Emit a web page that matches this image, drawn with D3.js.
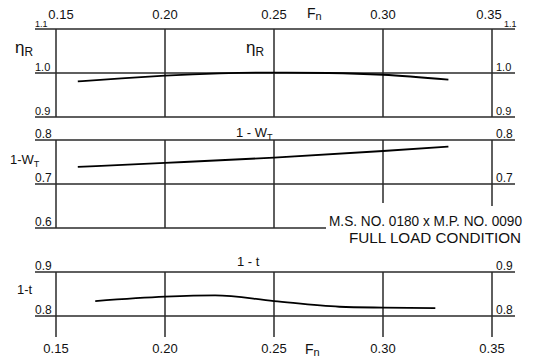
<!DOCTYPE html>
<html>
<head>
<meta charset="utf-8">
<script src="https://cdn.jsdelivr.net/npm/d3@7"></script>
<style>
  body { margin: 0; background: #fff; }
  text { font-family: "Liberation Sans", "DejaVu Sans", sans-serif; fill: #111; }
</style>
</head>
<body>
<div id="chart"></div>
<script>
// Fn tick values
const fnTicks = [0.15, 0.20, 0.25, 0.30, 0.35]

// eta_R curve
const etaFn = [0.16, 0.18, 0.20, 0.225, 0.25, 0.275, 0.30, 0.33]
const etaR = [0.981, 0.988, 0.994, 0.999, 1.001, 1.000, 0.996, 0.985]

// 1 - wT curve
const wFn = [0.16, 0.20, 0.25, 0.30, 0.33]
const oneMinusW = [0.739, 0.748, 0.760, 0.775, 0.785]

// 1 - t curve
const tFn = [0.168, 0.20, 0.223, 0.25, 0.28, 0.30, 0.324]
const oneMinusT = [0.834, 0.844, 0.847, 0.834, 0.821, 0.819, 0.818]

// y tick labels per panel
const etaTicks = [0.9, 1.0, 1.1]
const wTicks = [0.6, 0.7, 0.8]
const tTicks = [0.8, 0.9]

const width = 535
const height = 361

const svg = d3.select('#chart')
    .append('svg')
    .attr('width', width)
    .attr('height', height)

const x = d3.scaleLinear().domain([0.15, 0.35]).range([56, 492])

// each panel: 44px per 0.1
const yEta = d3.scaleLinear().domain([0.9, 1.1]).range([117, 29])
const yW = d3.scaleLinear().domain([0.6, 0.8]).range([228, 140])
const yT = d3.scaleLinear().domain([0.8, 0.9]).range([316, 272])

const gridColor = '#2a2a2a'

function hline(y, x1, x2) {
    svg.append('line')
        .attr('x1', x1).attr('x2', x2)
        .attr('y1', y).attr('y2', y)
        .attr('stroke', gridColor).attr('stroke-width', 1.5)
}
function vline(xp, y1, y2) {
    svg.append('line')
        .attr('x1', xp).attr('x2', xp)
        .attr('y1', y1).attr('y2', y2)
        .attr('stroke', gridColor).attr('stroke-width', 1.5)
}
function sideLabels(scale, ticks, size) {
    ticks.forEach(v => {
        const s = v.toFixed(1)
        // the top 1.1 labels are squeezed under the Fn ticks
        const fs = v === 1.1 ? 9 : size
        svg.append('text').attr('x', 35).attr('y', scale(v) - 2)
            .attr('font-size', fs).text(s)
        svg.append('text').attr('x', v === 1.1 ? 504 : 496).attr('y', scale(v) - 2)
            .attr('font-size', fs).text(s)
    })
}
function curve(xs, ys, scale) {
    const pts = xs.map((d, i) => [x(d), scale(ys[i])])
    svg.append('path')
        .attr('d', d3.line().curve(d3.curveMonotoneX)(pts))
        .attr('fill', 'none')
        .attr('stroke', '#000')
        .attr('stroke-width', 1.8)
}

// ---- panel 1: eta_R
etaTicks.forEach(v => hline(yEta(v), 35, 515))
fnTicks.forEach(f => vline(x(f), yEta(1.1), yEta(0.9)))
sideLabels(yEta, etaTicks, 11)
curve(etaFn, etaR, yEta)

// ---- panel 2: 1 - wT
hline(yW(0.8), 35, 515)
hline(yW(0.7), 35, 515)
hline(yW(0.6), 35, 326)
fnTicks.forEach(f => vline(x(f), yW(0.8), f >= 0.3 ? (f > 0.3 ? 206 : 203) : yW(0.6)))
sideLabels(yW, [0.7, 0.8], 12)
svg.append('text').attr('x', 35).attr('y', yW(0.6) - 2).attr('font-size', 12).text('0.6')
curve(wFn, oneMinusW, yW)

// ---- panel 3: 1 - t
tTicks.forEach(v => hline(yT(v), 35, 515))
fnTicks.forEach(f => vline(x(f), yT(0.9), 337))
sideLabels(yT, tTicks, 12)
curve(tFn, oneMinusT, yT)

// ---- Fn tick labels top and bottom
const topShift = { 0.15: 5, 0.35: -3 }
const topAxis = svg.append('g')
topAxis.selectAll('text')
    .data(fnTicks)
    .join('text')
    .attr('x', d => x(d) + (topShift[d] || 0))
    .attr('y', 19)
    .attr('text-anchor', 'middle')
    .attr('font-size', 13)
    .text(d => d.toFixed(2))

const bottomAxis = svg.append('g')
bottomAxis.selectAll('text')
    .data(fnTicks)
    .join('text')
    .attr('x', d => x(d))
    .attr('y', 353)
    .attr('text-anchor', 'middle')
    .attr('font-size', 13)
    .text(d => d.toFixed(2))

function fnLabel(xp, yp) {
    const t = svg.append('text').attr('x', xp).attr('y', yp).attr('font-size', 14)
    t.append('tspan').text('F')
    t.append('tspan').attr('font-size', 11).attr('dy', 2).text('n')
}
fnLabel(307, 18)
fnLabel(305, 354)

// ---- panel titles
function subLabel(xp, yp, main, sub, size) {
    const t = svg.append('text').attr('x', xp).attr('y', yp).attr('font-size', size)
    t.append('tspan').text(main)
    if (sub) t.append('tspan').attr('font-size', size * 0.7).attr('dy', 3).text(sub)
}
subLabel(15, 53, '\u03B7', 'R', 17)
subLabel(246, 53, '\u03B7', 'R', 17)
subLabel(10, 164, '1-W', 'T', 13)
subLabel(236, 137, '1 - W', 'T', 13)
subLabel(17, 294, '1-t', null, 13)
subLabel(237, 266, '1 - t', null, 13)

// ---- note
svg.append('text').attr('x', 522).attr('y', 226)
    .attr('text-anchor', 'end').attr('font-size', 14)
    .attr('textLength', 193).attr('lengthAdjust', 'spacingAndGlyphs')
    .text('M.S. NO. 0180 x M.P. NO. 0090')
svg.append('text').attr('x', 521).attr('y', 243)
    .attr('text-anchor', 'end').attr('font-size', 14)
    .attr('textLength', 172).attr('lengthAdjust', 'spacingAndGlyphs')
    .text('FULL  LOAD CONDITION')
</script>
</body>
</html>
